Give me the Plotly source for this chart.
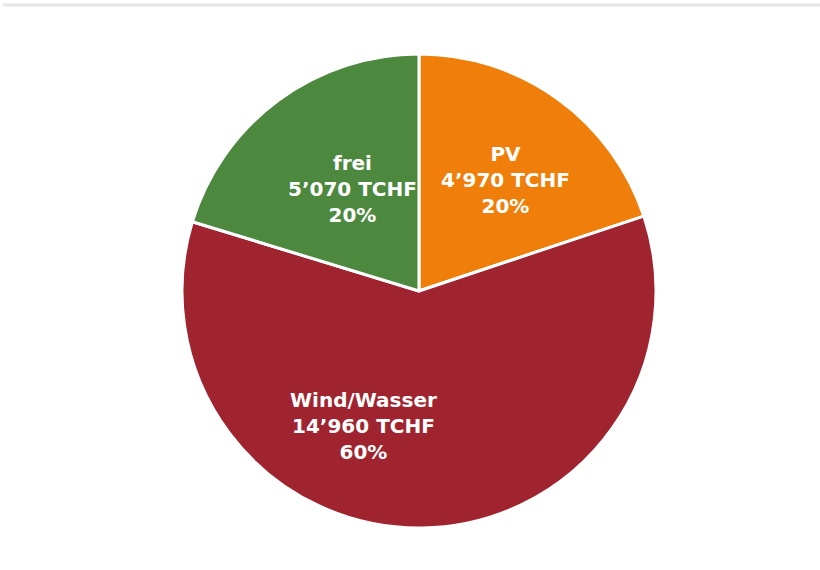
import plotly.graph_objects as go

labels = ["PV", "Wind/Wasser", "frei"]
values = [4970, 14960, 5070]
value_text = ["4’970", "14’960", "5’070"]
colors = ["#EF7F0A", "#A02430", "#4D883F"]
# label block centres (pixels in an 820x570 frame), as placed in the original
label_pos = [(505, 180), (363, 426), (352, 189)]

W, H = 820, 570
total = sum(values)
texts = [f"{l}<br>{v} TCHF<br>{round(100*x/total)}%" for l, v, x in zip(labels, value_text, values)]

fig = go.Figure(go.Pie(
    labels=labels,
    values=values,
    textinfo="none",
    marker=dict(colors=colors, line=dict(color="white", width=3)),
    sort=False,
    direction="clockwise",
    rotation=0,
    showlegend=False,
    hovertext=texts,
    hoverinfo="text",
    domain=dict(x=[182/W, 656/W], y=[1-528/H, 1-54/H]),
))

annotations = [
    dict(text=t, x=px/W, y=1-py/H, xref="paper", yref="paper",
         xanchor="center", yanchor="middle", showarrow=False, align="center",
         font=dict(family="DejaVu Sans", size=20, color="white", weight="bold"))
    for t, (px, py) in zip(texts, label_pos)
]

fig.update_layout(
    width=W, height=H,
    margin=dict(l=0, r=0, t=0, b=0),
    paper_bgcolor="white",
    font=dict(family="DejaVu Sans"),
    annotations=annotations,
    shapes=[dict(type="line", xref="paper", yref="paper", x0=0.004, x1=1, y0=1-5/H, y1=1-5/H,
                 line=dict(color="#E6E6E6", width=3))],
)

fig.write_html("out.html", config={"displayModeBar": False},
               post_script="document.body.style.margin='0';")
